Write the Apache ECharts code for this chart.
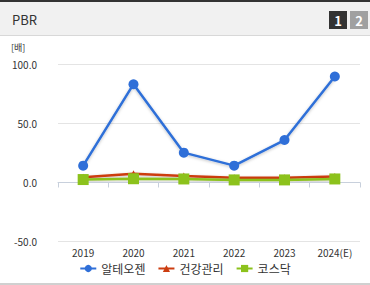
<!DOCTYPE html>
<html><head><meta charset="utf-8">
<script src="https://cdn.jsdelivr.net/npm/echarts@6/dist/echarts.min.js"></script>
<style>html,body{margin:0;padding:0;background:#fff;}#c{width:370px;height:285px;}</style>
</head><body><div id="c"></div>
<script>
const categories = ['2019','2020','2021','2022','2023','2024(E)'];
const seriesNames = ['알테오젠','건강관리','코스닥'];
const alteogen = [14.3, 83.3, 25.3, 14.3, 36.0, 89.8];
const healthcare = [4.5, 7.5, 5.5, 4.0, 4.0, 5.0];
const kosdaq = [2.5, 3.2, 3.0, 2.2, 2.2, 3.0];
const yTicks = [-50, 0, 50, 100];

const chart = echarts.init(document.getElementById('c'), null, {renderer:'svg'});
const font = '"Noto Sans CJK KR", "Noto Sans", sans-serif';
function mk(name, data, color, symbol, size){
  return {name, type:'line', data, symbol, symbolSize:size, color,
    lineStyle:{width:2.5, color, shadowColor:'rgba(0,0,0,0.25)', shadowBlur:3, shadowOffsetY:1},
    itemStyle:{color}};
}
chart.setOption({
  animation:false,
  textStyle:{fontFamily:font},
  graphic:[
    {type:'rect', shape:{x:0,y:0,width:370,height:36}, style:{fill:'#f1f1f1'}},
    {type:'rect', shape:{x:0,y:0,width:370,height:2}, style:{fill:'#333'}},
    {type:'rect', shape:{x:0,y:35,width:370,height:1}, style:{fill:'#d8d8d8'}},
    {type:'text', left:12, top:13, style:{text:'PBR', fill:'#333', font:'13px '+font}},
    {type:'rect', shape:{x:329,y:11,width:18,height:18}, style:{fill:'#333'}},
    {type:'text', x:338, y:20, style:{text:'1', fill:'#fff', font:'bold 13px '+font, align:'center', verticalAlign:'middle'}},
    {type:'rect', shape:{x:350,y:11,width:18,height:18}, style:{fill:'#a0a0a0'}},
    {type:'text', x:359, y:20, style:{text:'2', fill:'#fff', font:'bold 13px '+font, align:'center', verticalAlign:'middle'}},
    {type:'text', left:11, top:43, style:{text:'[배]', fill:'#333', font:'9px '+font}},
    {type:'rect', shape:{x:0,y:283,width:370,height:2}, style:{fill:'#d0d0d0'}}
  ],
  grid:{left:58, right:10, top:64.5, bottom:43.5, containLabel:false},
  legend:{top:262, left:'center', padding:0, itemWidth:16, itemHeight:9, itemGap:12,
    textStyle:{fontSize:12, lineHeight:13, color:'#333', fontFamily:font},
    data:seriesNames},
  xAxis:{type:'category', data:categories, boundaryGap:true,
    axisLine:{lineStyle:{color:'#c8d0dc'}},
    axisTick:{show:true, length:5, lineStyle:{color:'#c8d0dc'}},
    axisLabel:{fontSize:10, lineHeight:10, color:'#333', margin:6}},
  yAxis:{type:'value', min:-50, max:100, interval:50,
    axisLine:{show:false}, axisTick:{show:false},
    splitLine:{lineStyle:{color:'#e4e4e4'}},
    axisLabel:{fontSize:10, color:'#333', margin:21, formatter:v=>v.toFixed(1)}},
  series:[
    mk(seriesNames[0], alteogen, '#2f6fd8', 'circle', 10),
    mk(seriesNames[1], healthcare, '#cc3d10', 'triangle', 7),
    mk(seriesNames[2], kosdaq, '#8cc21c', 'rect', 11)
  ]
});
</script></body></html>
